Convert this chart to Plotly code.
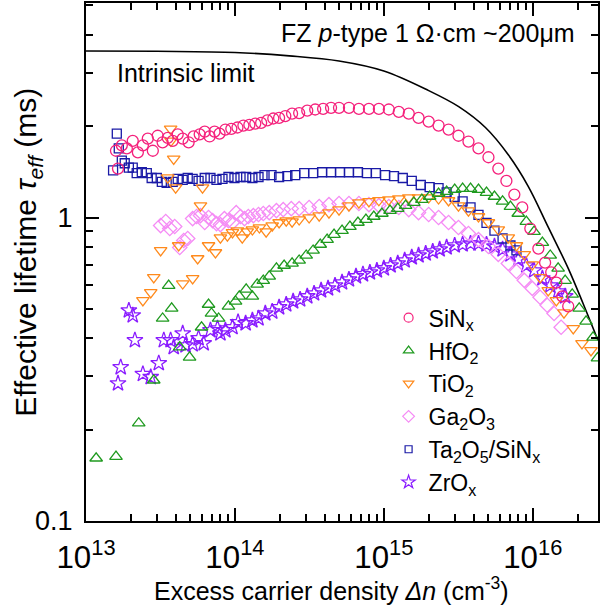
import plotly.graph_objects as go

# ---------------- data ----------------
x_sinx = [1.59e13, 1.64e13, 1.74e13, 1.88e13, 2.06e13, 2.23e13, 2.41e13, 2.60e13, 2.81e13, 3.03e13,
          3.27e13, 3.54e13, 3.82e13, 4.13e13, 4.46e13, 4.89e13, 5.28e13, 5.80e13, 6.27e13, 6.76e13,
          7.30e13, 7.88e13, 8.63e13, 9.46e13, 1.04e14, 1.14e14, 1.25e14, 1.37e14, 1.50e14, 1.65e14,
          1.81e14, 1.98e14, 2.18e14, 2.42e14, 2.70e14, 3.06e14, 3.46e14, 3.91e14, 4.42e14, 5.00e14,
          5.83e14, 6.80e14, 7.94e14, 9.26e14, 1.08e15, 1.26e15, 1.47e15, 1.71e15, 2.00e15, 2.33e15,
          2.72e15, 3.17e15, 3.70e15, 4.32e15, 5.04e15, 5.87e15, 6.65e15, 7.52e15, 8.50e15, 9.63e15,
          1.09e16, 1.21e16, 1.33e16, 1.44e16, 1.58e16, 1.73e16]
y_sinx = [1.66, 1.45, 1.73, 1.69, 1.79, 1.64, 1.73, 1.82, 1.66, 1.86,
          1.77, 1.83, 1.79, 1.88, 1.82, 1.77, 1.85, 1.88, 1.92, 1.85,
          1.92, 1.89, 1.95, 1.96, 1.98, 2.01, 2.02, 2.04, 2.05, 2.09,
          2.12, 2.13, 2.16, 2.20, 2.21, 2.25, 2.27, 2.28, 2.30, 2.30,
          2.30, 2.28, 2.28, 2.28, 2.27, 2.23, 2.20, 2.13, 2.07, 2.01,
          1.95, 1.86, 1.78, 1.69, 1.58, 1.45, 1.32, 1.19, 1.08, 0.92,
          0.79, 0.71, 0.66, 0.61, 0.55, 0.51]

x_hfo2 = [1.17e13, 1.59e13, 2.26e13, 2.85e13, 3.27e13, 3.59e13, 3.76e13, 4.26e13, 4.96e13, 5.97e13,
          6.65e13, 6.96e13, 7.77e13, 9.05e13, 1.01e14, 1.07e14, 1.19e14, 1.31e14, 1.41e14, 1.55e14,
          1.70e14, 1.90e14, 2.14e14, 2.42e14, 2.70e14, 3.01e14, 3.35e14, 3.74e14, 4.16e14, 4.63e14,
          5.24e14, 5.92e14, 6.70e14, 7.58e14, 8.56e14, 9.70e14, 1.10e15, 1.24e15, 1.40e15, 1.59e15,
          1.80e15, 2.03e15, 2.33e15, 2.64e15, 2.99e15, 3.38e15, 3.82e15, 4.32e15, 4.89e15, 5.53e15,
          6.27e15, 7.08e15, 7.99e15, 9.05e15, 1.02e16, 1.16e16, 1.31e16, 1.48e16, 1.65e16, 1.84e16,
          2.05e16, 2.28e16, 2.54e16, 2.72e16]
y_hfo2 = [0.161, 0.163, 0.210, 0.291, 0.465, 0.597, 0.502, 0.374, 0.346, 0.435,
          0.517, 0.483, 0.465, 0.510, 0.529, 0.550, 0.580, 0.550, 0.602, 0.620,
          0.640, 0.680, 0.695, 0.706, 0.722, 0.750, 0.779, 0.815, 0.846, 0.879,
          0.906, 0.934, 0.963, 0.985, 1.008, 1.031, 1.054, 1.070, 1.095, 1.12,
          1.146, 1.173, 1.20, 1.218, 1.236, 1.245, 1.245, 1.236, 1.209, 1.173,
          1.13, 1.087, 1.031, 0.970, 0.899, 0.827, 0.750, 0.680, 0.620, 0.558,
          0.502, 0.455, 0.403, 0.344]

x_tio2 = [2.41e13, 2.72e13, 2.85e13, 3.17e13, 3.54e13, 3.70e13, 3.72e13, 3.88e13, 4.00e13, 4.19e13,
          4.46e13, 5.20e13, 5.62e13, 5.87e13, 6.06e13, 6.65e13, 7.40e13, 7.99e13, 8.90e13, 9.63e13,
          1.04e14, 1.12e14, 1.21e14, 1.31e14, 1.46e14, 1.62e14, 1.78e14, 1.98e14, 2.21e14, 2.42e14,
          2.70e14, 3.15e14, 3.68e14, 4.28e14, 5.00e14, 5.83e14, 6.80e14, 7.94e14, 9.26e14, 1.08e15,
          1.26e15, 1.47e15, 1.71e15, 2.00e15, 2.33e15, 2.72e15, 3.17e15, 3.70e15, 4.32e15, 5.04e15,
          5.87e15, 6.85e15, 7.77e15, 8.77e15, 9.93e15, 1.12e16, 1.27e16, 1.44e16, 1.62e16, 1.87e16,
          2.14e16, 2.46e16]
y_tio2 = [0.533, 0.567, 0.635, 0.779, 1.354, 1.96, 1.79, 1.56, 1.255, 0.809,
          0.606, 0.630, 0.733, 1.095, 1.255, 0.809, 0.767, 0.859, 0.872, 0.893,
          0.906, 0.859, 0.899, 0.913, 0.927, 0.899, 0.941, 0.963, 0.977, 0.970,
          0.985, 1.00, 1.015, 1.038, 1.062, 1.095, 1.12, 1.13, 1.14, 1.146,
          1.155, 1.164, 1.164, 1.164, 1.155, 1.138, 1.095, 1.054, 1.008, 0.963,
          0.913, 0.859, 0.809, 0.756, 0.700, 0.635, 0.575, 0.533, 0.486, 0.431,
          0.385, 0.365]

x_ga2o3 = [3.17e13, 3.43e13, 3.65e13, 3.94e13, 4.26e13, 4.53e13, 4.82e13, 5.20e13, 5.53e13, 5.87e13,
           6.27e13, 6.65e13, 7.08e13, 7.52e13, 7.99e13, 8.50e13, 9.05e13, 9.63e13, 1.02e14, 1.09e14,
           1.16e14, 1.23e14, 1.33e14, 1.44e14, 1.55e14, 1.70e14, 1.90e14, 2.11e14, 2.39e14, 2.70e14,
           3.15e14, 3.68e14, 4.28e14, 5.00e14, 5.83e14, 6.80e14, 7.94e14, 9.26e14, 1.08e15, 1.26e15,
           1.47e15, 1.71e15, 2.00e15, 2.33e15, 2.72e15, 3.17e15, 3.70e15, 4.32e15, 5.04e15, 5.87e15,
           6.85e15, 7.77e15, 8.77e15, 9.93e15, 1.12e16, 1.25e16, 1.39e16, 1.55e16]
y_ga2o3 = [0.941, 0.970, 0.920, 0.934, 0.797, 0.840, 0.853, 0.992, 1.008, 1.015,
           0.963, 1.00, 0.977, 0.955, 0.948, 0.992, 0.977, 0.963, 1.038, 1.008,
           0.992, 1.008, 1.015, 1.023, 1.031, 1.038, 1.054, 1.062, 1.070, 1.070,
           1.079, 1.087, 1.103, 1.112, 1.112, 1.112, 1.103, 1.095, 1.087, 1.079,
           1.062, 1.038, 1.023, 1.00, 0.963, 0.927, 0.886, 0.846, 0.803, 0.756,
           0.706, 0.664, 0.621, 0.584, 0.546, 0.514, 0.483, 0.435]

x_ta2o5 = [1.52e13, 1.61e13, 1.66e13, 1.74e13, 1.82e13, 1.94e13, 2.06e13, 2.19e13, 2.37e13, 2.56e13,
           2.76e13, 2.99e13, 3.23e13, 3.48e13, 3.82e13, 4.13e13, 4.46e13, 4.82e13, 5.20e13, 5.70e13,
           6.27e13, 6.85e13, 7.52e13, 8.25e13, 9.05e13, 9.93e13, 1.09e14, 1.19e14, 1.31e14, 1.44e14,
           1.58e14, 1.76e14, 1.98e14, 2.25e14, 2.54e14, 2.92e14, 3.35e14, 3.85e14, 4.42e14, 5.08e14,
           5.83e14, 6.70e14, 7.70e14, 8.83e14, 1.02e15, 1.17e15, 1.34e15, 1.54e15, 1.77e15, 2.03e15,
           2.33e15, 2.64e15, 2.99e15, 3.38e15, 3.82e15, 4.32e15, 4.89e15, 5.53e15, 6.27e15, 7.08e15,
           7.77e15]
y_ta2o5 = [1.43, 1.89, 1.69, 1.54, 1.51, 1.46, 1.46, 1.40, 1.41, 1.40,
           1.35, 1.35, 1.31, 1.30, 1.31, 1.34, 1.33, 1.35, 1.34, 1.32,
           1.35, 1.35, 1.33, 1.34, 1.36, 1.35, 1.36, 1.36, 1.35, 1.36,
           1.38, 1.38, 1.36, 1.37, 1.38, 1.40, 1.40, 1.41, 1.41, 1.41,
           1.41, 1.41, 1.40, 1.40, 1.38, 1.37, 1.35, 1.32, 1.28, 1.26,
           1.25, 1.21, 1.17, 1.13, 1.08, 1.02, 0.96, 0.906, 0.853, 0.809,
           0.779]

x_zrox = [1.64e13, 1.71e13, 1.94e13, 2.06e13, 2.13e13, 2.41e13, 2.72e13, 3.08e13, 3.33e13, 3.70e13,
          3.88e13, 4.46e13, 4.66e13, 5.20e13, 5.70e13, 6.17e13, 6.85e13, 7.64e13, 7.99e13, 8.63e13,
          9.63e13, 1.05e14, 1.18e14, 1.31e14, 1.44e14, 1.60e14, 1.78e14, 1.98e14, 2.21e14, 2.46e14,
          2.74e14, 3.06e14, 3.40e14, 3.79e14, 4.22e14, 4.70e14, 5.24e14, 5.83e14, 6.50e14, 7.24e14,
          8.06e14, 8.98e14, 1.00e15, 1.11e15, 1.24e15, 1.38e15, 1.54e15, 1.71e15, 1.91e15, 2.13e15,
          2.37e15, 2.64e15, 2.99e15, 3.38e15, 3.82e15, 4.32e15, 4.89e15, 5.53e15, 6.27e15, 7.08e15,
          7.99e15, 9.05e15, 1.02e16, 1.16e16, 1.31e16, 1.48e16, 1.65e16]
y_zrox = [0.284, 0.321, 0.494, 0.476, 0.394, 0.305, 0.298, 0.331, 0.394, 0.394,
          0.374, 0.415, 0.379, 0.382, 0.400, 0.385, 0.425, 0.431, 0.415, 0.425,
          0.435, 0.452, 0.448, 0.458, 0.465, 0.483, 0.490, 0.506, 0.517, 0.529,
          0.537, 0.550, 0.562, 0.575, 0.584, 0.597, 0.611, 0.625, 0.640, 0.650,
          0.659, 0.669, 0.680, 0.695, 0.706, 0.722, 0.739, 0.750, 0.761, 0.773,
          0.785, 0.797, 0.809, 0.815, 0.821, 0.821, 0.815, 0.803, 0.785, 0.756,
          0.728, 0.695, 0.669, 0.630, 0.597, 0.571, 0.550]

x_intr = [1e13, 3e13, 1e14, 2.32e14, 5.0e14, 1.0e15, 2.0e15, 3.18e15, 4.81e15, 6.85e15,
          9.3e15, 1.27e16, 1.73e16, 2.18e16, 2.74e16]
y_intr = [3.54, 3.53, 3.50, 3.41, 3.28, 3.04, 2.62, 2.32, 1.98, 1.61,
          1.27, 0.93, 0.68, 0.52, 0.394]

names = ["SiN<sub>x</sub>", "HfO<sub>2</sub>", "TiO<sub>2</sub>", "Ga<sub>2</sub>O<sub>3</sub>",
         "Ta<sub>2</sub>O<sub>5</sub>/SiN<sub>x</sub>", "ZrO<sub>x</sub>"]
colors = ["#f5217c", "#1f9a1f", "#ff8a1c", "#f58cf5", "#1a1aa6", "#8a1cff"]
symbols = ["circle-open", "triangle-up-open", "triangle-down-open", "diamond-open",
           "square-open", "star-open"]
sizes = [11, 11, 11, 11, 9, 12]
xs = [x_sinx, x_hfo2, x_tio2, x_ga2o3, x_ta2o5, x_zrox]
ys = [y_sinx, y_hfo2, y_tio2, y_ga2o3, y_ta2o5, y_zrox]

FONT = "Arial, Liberation Sans, sans-serif"

fig = go.Figure()

# intrinsic limit curve
fig.add_trace(go.Scatter(x=x_intr, y=y_intr, mode="lines", line=dict(color="black", width=1.6, shape="spline"),
                         showlegend=False, hoverinfo="skip"))

# data traces (draw order: ZrOx, Ga2O3, Ta2O5, TiO2, HfO2, SiNx)
for i in [5, 3, 4, 2, 1, 0]:
    fig.add_trace(go.Scatter(x=xs[i], y=ys[i], mode="markers", showlegend=False,
                             marker=dict(symbol=symbols[i], size=sizes[i], color=colors[i],
                                         line=dict(width=1.3, color=colors[i]))))

# legend entries (smaller markers, as in the reference)
for i in range(6):
    fig.add_trace(go.Scatter(x=[None], y=[None], mode="markers", name=names[i],
                             marker=dict(symbol=symbols[i], size=sizes[i] - 2, color=colors[i],
                                         line=dict(width=1.2, color=colors[i]))))

axis_common = dict(type="log", showline=True, linecolor="black", linewidth=2, mirror="ticks",
                   ticks="inside", ticklen=13, tickwidth=2, tickcolor="black",
                   showgrid=False, zeroline=False, dtick=1,
                   minor=dict(ticks="inside", ticklen=7, tickwidth=1.5, tickcolor="black", showgrid=False))

fig.update_xaxes(range=[13, 16.438], exponentformat="power",
                 tickfont=dict(size=25, family=FONT, color="black"), ticklabelstandoff=9, **axis_common)
fig.update_yaxes(range=[-1, 0.707], tickfont=dict(size=27, family=FONT, color="black"),
                 ticklabelstandoff=6, **axis_common)

fig.update_layout(
    width=601, height=607,
    margin=dict(l=86, r=1, t=2, b=86),
    plot_bgcolor="white", paper_bgcolor="white",
    font=dict(family=FONT, color="black"),
    showlegend=True,
    legend=dict(x=0.591, y=0.434, xanchor="left", yanchor="top", bgcolor="rgba(0,0,0,0)",
                font=dict(size=23, family=FONT, color="black"), tracegroupgap=0, itemwidth=30),
    annotations=[
        dict(text="FZ <i>p</i>-type 1 Ω·cm ~200μm", xref="paper", yref="paper", x=0.377, y=0.942,
             xanchor="left", yanchor="middle", showarrow=False, font=dict(size=25, family=FONT)),
        dict(text="Intrinsic limit", xref="paper", yref="paper", x=0.056, y=0.865,
             xanchor="left", yanchor="middle", showarrow=False, font=dict(size=25, family=FONT)),
        dict(text="Effective lifetime <i>τ</i><sub><i>eff</i></sub> (ms)", xref="paper", yref="paper",
             x=-0.113, y=0.518, textangle=-90, xanchor="center", yanchor="middle", showarrow=False,
             font=dict(size=30, family=FONT)),
        dict(text="Excess carrier density <i>Δn</i> (cm<sup>-3</sup>)", xref="paper", yref="paper",
             x=0.479, y=-0.131, xanchor="center", yanchor="middle", showarrow=False,
             font=dict(size=25, family=FONT)),
    ],
)

fig.write_html("out.html")
